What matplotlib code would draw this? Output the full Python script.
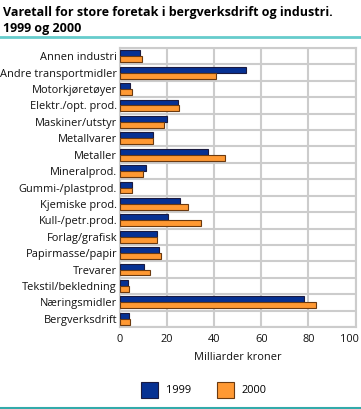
import numpy as np
import matplotlib
matplotlib.use( "Agg" )
import matplotlib.pyplot as plt
import matplotlib.transforms as mtransforms
from matplotlib.patches import Patch
from matplotlib.lines import Line2D

#################################################
#     Data
#################################################
categories = [ "Annen industri", "Andre transportmidler", "Motorkjøretøyer", "Elektr./opt. prod.",
               "Maskiner/utstyr", "Metallvarer", "Metaller", "Mineralprod.", "Gummi-/plastprod.",
               "Kjemiske prod.", "Kull-/petr.prod.", "Forlag/grafisk", "Papirmasse/papir",
               "Trevarer", "Tekstil/bekledning", "Næringsmidler", "Bergverksdrift" ]
values_1999 = [ 8.7, 53.7, 4.1, 24.6, 20.2, 14.0, 37.3, 11.3, 5.2,
                25.7, 20.6, 15.8, 16.4, 10.4, 3.5, 78.2, 3.9 ]
values_2000 = [ 9.6, 40.6, 5.2, 25.3, 18.9, 14.0, 44.8, 10.0, 5.2,
                29.1, 34.6, 15.8, 17.6, 12.7, 3.7, 83.4, 4.5 ]
series_labels = [ "1999", "2000" ]
x_ticks = [ 0, 20, 40, 60, 80, 100 ]

#################################################
#     Plot
#################################################
plt.rcParams[ "font.family" ] = [ "Open Sans", "DejaVu Sans" ]
fig = plt.figure( figsize = ( 3.61, 4.09 ), dpi = 100 )
ax = fig.add_axes( [ 0.332, 0.2005, 0.653, 0.6821 ] )

blue = "#063193"
orange = "#ff9933"
grid_col = "#cccccc"
fs = 7.9

y = np.arange( len( categories ) )
h = 0.36
ax.barh( y - h / 2, values_1999, height = h, color = blue, edgecolor = "#1a1a40", linewidth = 0.8, zorder = 3 )
ax.barh( y + h / 2, values_2000, height = h, color = orange, edgecolor = "#6b3a10", linewidth = 0.8, zorder = 3 )

ax.set_ylim( len( categories ) - 0.5, -0.5 )
ax.set_xlim( 0, 100 )
ax.set_xticks( x_ticks )
ax.set_yticks( y )
ax.set_yticklabels( categories, fontsize = fs, color = "#111111" )
ax.set_yticks( np.arange( len( categories ) + 1 ) - 0.5, minor = True )
ax.tick_params( axis = "y", which = "both", length = 0, pad = 2 )
ax.tick_params( axis = "x", length = 0, labelsize = fs, pad = 5, labelcolor = "#111111" )

# last tick label sits a bit inside the figure, as in the original
last = ax.get_xticklabels()[ -1 ]
last.set_transform( last.get_transform() + mtransforms.ScaledTranslation( -6 / 100, 0, fig.dpi_scale_trans ) )

ax.grid( axis = "x", color = grid_col, linewidth = 1.5, zorder = 0 )
ax.grid( axis = "y", which = "minor", color = grid_col, linewidth = 1.5, zorder = 0 )
for s in ax.spines.values():
    s.set_color( grid_col )
    s.set_linewidth( 1.5 )

ax.set_xlabel( "Milliarder kroner", fontsize = fs, color = "#111111", labelpad = 5 )

fig.text( 0.008, 0.985, "Varetall for store foretak i bergverksdrift og industri.\n1999 og 2000",
          fontsize = 9.0, fontweight = "bold", va = "top", ha = "left", linespacing = 1.25 )

# teal rules
fig.add_artist( Line2D( [ 0, 1 ], [ 1 - 37 / 409, 1 - 37 / 409 ], color = "#66cccc", linewidth = 2 ) )
fig.add_artist( Line2D( [ 0, 1 ], [ 1 - 407.5 / 409, 1 - 407.5 / 409 ], color = "#33aaaa", linewidth = 1.5 ) )

handles = [ Patch( facecolor = blue, edgecolor = "#1a1a40", linewidth = 0.8 ),
            Patch( facecolor = orange, edgecolor = "#6b3a10", linewidth = 0.8 ) ]
fig.legend( handles, series_labels, loc = "center", bbox_to_anchor = ( 0.565, 1 - 390 / 409 ), ncol = 2,
            frameon = False, fontsize = fs, handlelength = 1.5, handleheight = 1.95,
            handletextpad = 0.75, columnspacing = 2.4 )

plt.savefig( "out.png", dpi = 100 )
